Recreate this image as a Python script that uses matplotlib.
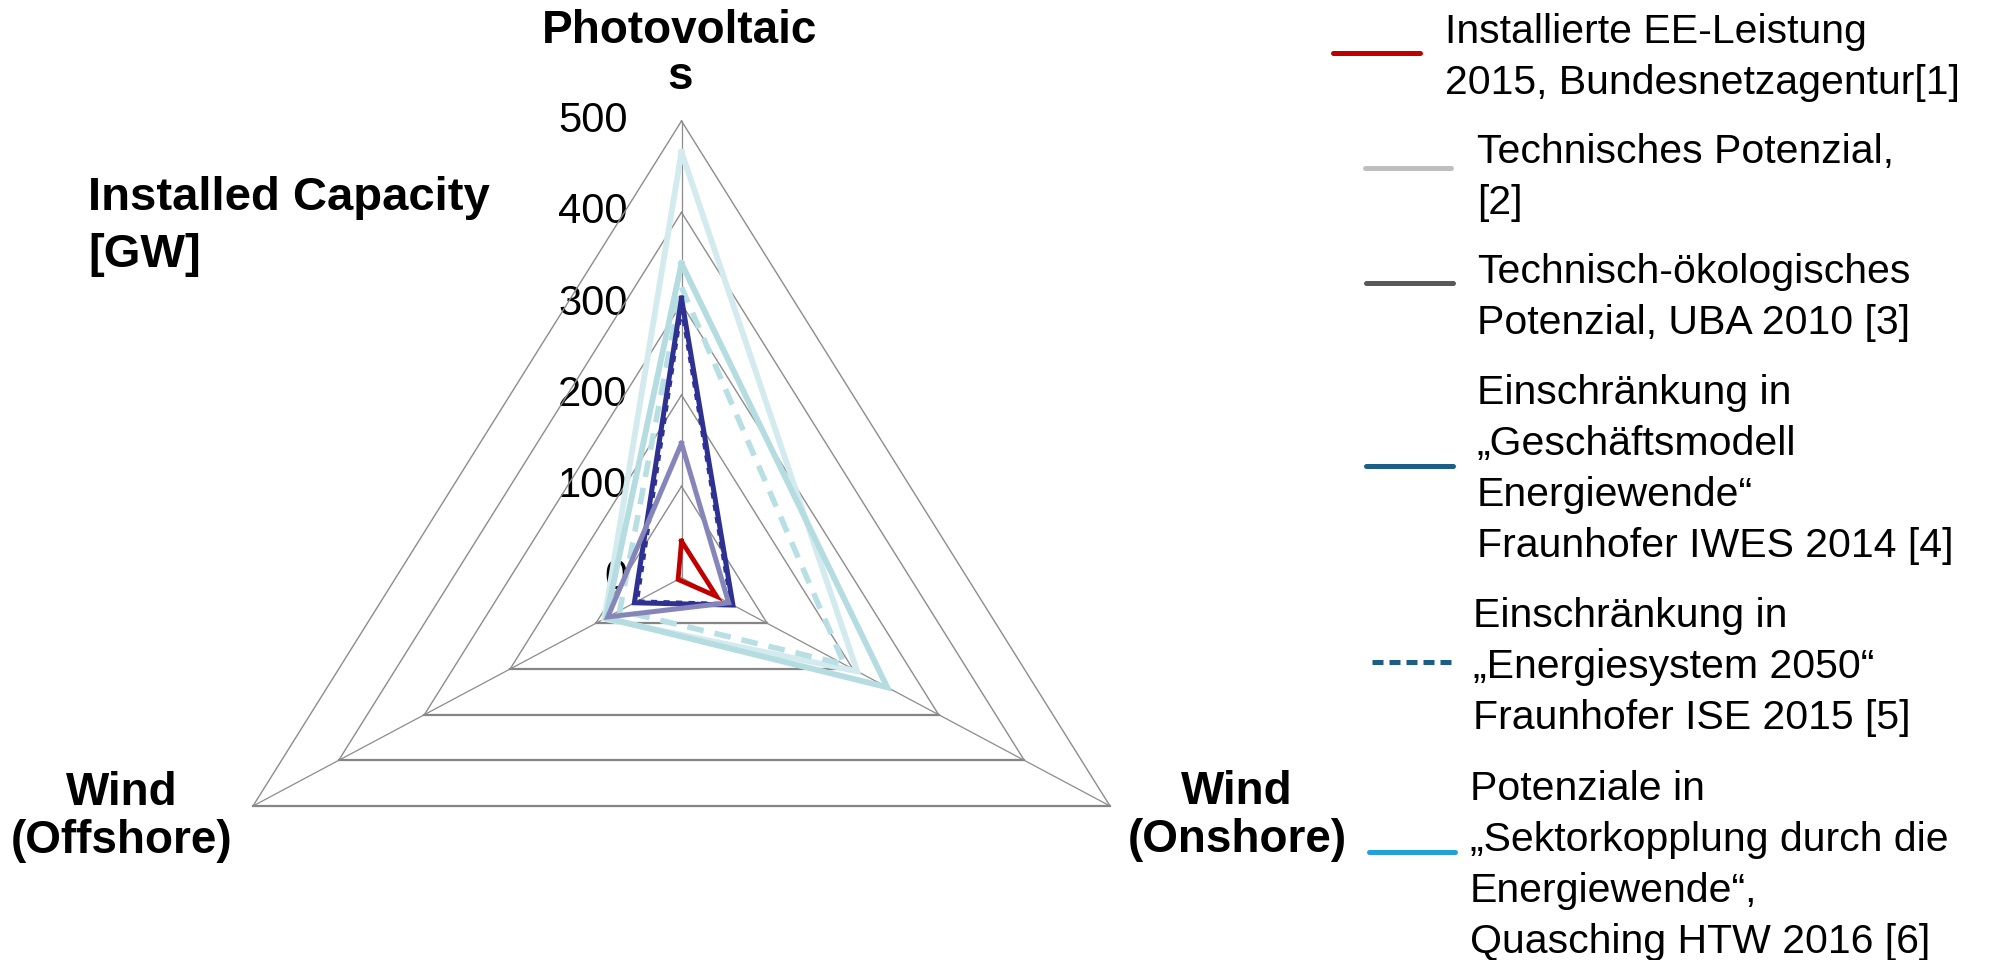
import matplotlib

matplotlib.use("Agg")

import matplotlib.pyplot as plt
import numpy as np
from matplotlib.lines import Line2D
from matplotlib.transforms import offset_copy


# axes of the radar: Photovoltaics (top), Wind Onshore (right), Wind Offshore (left)
categories = ["Photovoltaics", "Wind (Onshore)", "Wind (Offshore)"]
angles_deg = [90, -30, 210]
rings = [100, 200, 300, 400, 500]
tick_labels = ["0", "100", "200", "300", "400", "500"]

# installed capacity in GW per axis (PV, onshore, offshore)
installed_2015 = [40, 41, 4]
very_light_cyan = [466, 205, 90]
light_cyan = [344, 240, 88]
light_cyan_dashed = [318, 190, 72]
navy_dashed = [296, 58, 52]
navy = [306, 60, 55]
lavender = [147, 55, 86]

series = [
    (very_light_cyan, "#D3EBEE", "-", 4.2),
    (light_cyan_dashed, "#B8DFE3", (0, (3, 2)), 4.0),
    (light_cyan, "#B4DCE1", "-", 4.2),
    (navy_dashed, "#2E3192", (0, (1.5, 1.5)), 3.0),
    (navy, "#2E3192", "-", 3.6),
    (lavender, "#8585B9", "-", 3.6),
    (installed_2015, "#C00000", "-", 3.4),
]

legend_labels = [
    "Installierte EE-Leistung\n2015, Bundesnetzagentur[1]",
    "Technisches Potenzial,\n[2]",
    "Technisch-ökologisches\nPotenzial, UBA 2010 [3]",
    "Einschränkung in\n„Geschäftsmodell\nEnergiewende“\nFraunhofer IWES 2014 [4]",
    "Einschränkung in\n„Energiesystem 2050“\nFraunhofer ISE 2015 [5]",
    "Potenziale in\n„Sektorkopplung durch die\nEnergiewende“,\nQuasching HTW 2016 [6]",
]
legend_colors = ["#C00000", "#BFBFBF", "#595959", "#1B5E87", "#1B5E87", "#22A0DA"]
legend_styles = ["-", "-", "-", "-", (0, (2.2, 1.2)), "-"]

FONT = "Liberation Sans"
W, H = 1993, 960


def to_xy(values):
    a = np.deg2rad(angles_deg)
    v = np.asarray(values, dtype=float)
    x = v * np.cos(a)
    y = v * np.sin(a)
    return np.append(x, x[0]), np.append(y, y[0])


fig = plt.figure(figsize=(W / 100, H / 100), dpi=100)

# overlay in pixel coordinates for labels and legend
ov = fig.add_axes([0, 0, 1, 1])
ov.set_xlim(0, W)
ov.set_ylim(H, 0)
ov.axis("off")

rmax = rings[-1]
ax = fig.add_axes([253 / W, (H - 806) / H, 857 / W, 685 / H])
ax.set_xlim(-rmax * np.cos(np.deg2rad(30)), rmax * np.cos(np.deg2rad(30)))
ax.set_ylim(-rmax / 2, rmax)
ax.axis("off")

# grid triangles and spokes (bottom edges a bit heavier, as in the original)
for r in rings:
    gx, gy = to_xy([r, r, r])
    ax.plot(gx, gy, color="#8C8C8C", lw=1.0, zorder=1, clip_on=False)
    ax.plot(gx[1:3], gy[1:3], color="#858585", lw=1.6, zorder=1, clip_on=False)
ox, oy = to_xy([rmax, rmax, rmax])
for i in range(3):
    ax.plot([0, ox[i]], [0, oy[i]], color="#8C8C8C", lw=0.9, zorder=1, clip_on=False)

# radial tick labels left of the PV spoke
tick_tr = offset_copy(ax.transData, fig=fig, x=-54, y=0, units="dots")
for val, lab in zip([0] + rings, tick_labels):
    ax.text(0, val, lab, transform=tick_tr, ha="right", va="center",
            fontsize=30, family=FONT, color="black", zorder=0.5)

for vals, color, ls, lw in series:
    sx, sy = to_xy(vals)
    ax.plot(sx, sy, color=color, linestyle=ls, lw=lw, zorder=3,
            solid_joinstyle="miter", clip_on=False)

# category labels
bold = dict(family=FONT, fontweight="bold", fontsize=33, color="black")
ov.text(680, 43, "Photovoltaic", ha="center", va="baseline", **bold)
ov.text(680, 89, "s", ha="center", va="baseline", **bold)
ov.text(122, 805, "Wind", ha="center", va="baseline", **bold)
ov.text(122, 853, "(Offshore)", ha="center", va="baseline", **bold)
ov.text(1237, 804, "Wind", ha="center", va="baseline", **bold)
ov.text(1237, 852, "(Onshore)", ha="center", va="baseline", **bold)

ov.text(88, 210, "Installed Capacity", ha="left", va="baseline",
        family=FONT, fontweight="bold", fontsize=34)
ov.text(88, 267, "[GW]", ha="left", va="baseline",
        family=FONT, fontweight="bold", fontsize=34)

# legend, drawn by hand to keep the staggered layout
text_x = [1445, 1477, 1477, 1477, 1473, 1470]
first_baseline = [43, 163, 283, 404, 627, 800]
handle_x = [(1333, 1420), (1365, 1451), (1366, 1453), (1366, 1453), (1372, 1455), (1369, 1455)]
handle_y = [53, 168, 283, 466, 662, 852]
line_pitch = 51
for i, label in enumerate(legend_labels):
    x0, x1 = handle_x[i]
    ov.add_line(Line2D([x0, x1], [handle_y[i], handle_y[i]], color=legend_colors[i],
                       linestyle=legend_styles[i], lw=3.6, solid_capstyle="round"))
    for k, line in enumerate(label.split("\n")):
        ov.text(text_x[i], first_baseline[i] + k * line_pitch, line, ha="left",
                va="baseline", family=FONT, fontsize=29.5, color="black")

fig.savefig("out.png", dpi=100)
